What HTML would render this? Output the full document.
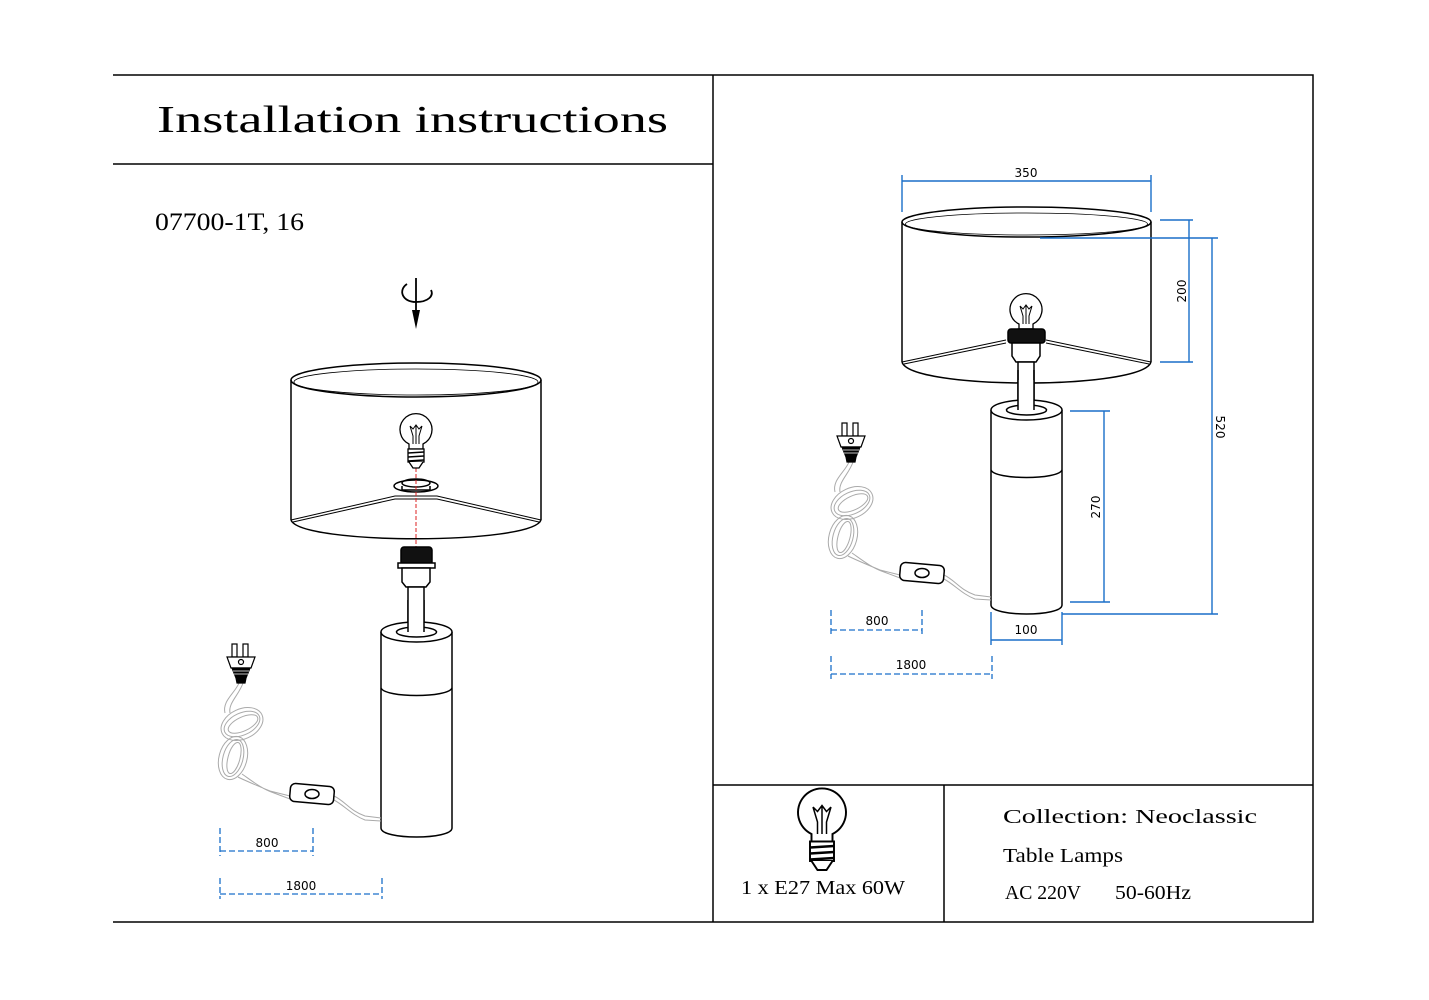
<!DOCTYPE html>
<html><head><meta charset="utf-8"><style>html,body{margin:0;padding:0;background:#fff}svg{display:block}</style></head>
<body>
<svg width="1429" height="1000" viewBox="0 0 1429 1000" xmlns="http://www.w3.org/2000/svg">
<defs>
  <g id="bulb" fill="none" stroke="#000" stroke-width="1.3">
    <path d="M-7,12 A16,16 0 1 1 7,12 L7,17 L-7,17 Z" fill="#fff"/>
    <path d="M-3,12 L-3,4 L-6,-6 M3,12 L3,4 L6,-6 M-6,-6 L-3,-3 L0,-7 L3,-3 L6,-6 M0,-7 L0,12" stroke-width="1"/>
    <rect x="-8" y="17" width="16" height="13" fill="#fff"/>
    <path d="M-8,21 L8,20 M-8,25 L8,24 M-8,29 L8,28" stroke-width="1.6"/>
    <path d="M-7,30 L-3,36 L3,36 L7,30" fill="#fff"/>
  </g>
  <g id="cord">
    <g fill="none" stroke="#aaa" stroke-width="1">
      <path d="M849,462 C845,472 832,480 835,492 M853,462 C849,474 838,482 840,492"/>
      <ellipse cx="852" cy="503" rx="22" ry="15" transform="rotate(-25 852 503)"/>
      <ellipse cx="852" cy="503" rx="19" ry="11" transform="rotate(-25 852 503)"/>
      <ellipse cx="853" cy="503" rx="16" ry="7" transform="rotate(-25 853 503)"/>
      <ellipse cx="843" cy="537" rx="22" ry="14" transform="rotate(-75 843 537)"/>
      <ellipse cx="843" cy="537" rx="19" ry="10" transform="rotate(-75 843 537)"/>
      <ellipse cx="844" cy="537" rx="16" ry="6" transform="rotate(-75 844 537)"/>
      <path d="M848,556 C856,560 868,565 880,570 L900,575 M852,553 C862,560 872,568 884,572 L900,578"/>
      <path d="M944,575 C955,580 960,590 975,595 L991,597 M944,579 C955,585 962,594 975,599 L991,600"/>
    </g>
    <rect x="900" y="564" width="44" height="18" rx="5" fill="#fff" stroke="#000" stroke-width="1.5" transform="rotate(5 922 573)"/>
    <ellipse cx="922" cy="573" rx="7" ry="4.5" fill="none" stroke="#000" stroke-width="1.5"/>
    <g stroke="#000" stroke-width="1.2">
      <rect x="842" y="423" width="5" height="13" fill="#fff"/>
      <rect x="853" y="423" width="5" height="13" fill="#fff"/>
      <path d="M837,436 L865,436 L861,447 L841,447 Z" fill="#fff"/>
      <circle cx="851" cy="441" r="2.5" fill="none"/>
      <path d="M842,447 L860,447 L856,457 L855,462 L847,462 L846,457 Z" fill="#000"/>
      <path d="M843,450 L859,450 M844,453 L858,453" stroke="#fff" stroke-width="0.8"/>
    </g>
  </g>
</defs>

<g stroke="#000" stroke-width="1.5" fill="none">
  <path d="M113,75 L1313,75 L1313,922 L113,922"/>
  <path d="M713,75 L713,922"/>
  <path d="M113,164 L713,164"/>
  <path d="M713,785 L1313,785"/>
  <path d="M944,785 L944,922"/>
</g>

<text x="157" y="132" font-family="Liberation Serif, serif" font-size="38" textLength="511" lengthAdjust="spacingAndGlyphs">Installation instructions</text>
<text x="155" y="230" font-family="Liberation Serif, serif" font-size="25" textLength="149" lengthAdjust="spacingAndGlyphs">07700-1T, 16</text>

<g stroke="#000" stroke-width="1.8" fill="none">
  <path d="M416,278 L416,312"/>
  <path d="M407,284 C398,290 402,302 416,302 C428,302 434,296 431,290"/>
</g>
<path d="M412,310 L420,310 L416,329 Z" fill="#000"/>

<g stroke="#000" stroke-width="1.5" fill="none">
  <line x1="291" y1="380" x2="291" y2="520"/>
  <line x1="541" y1="380" x2="541" y2="520"/>
  <ellipse cx="416" cy="380" rx="125" ry="17"/>
  <ellipse cx="416" cy="382" rx="122" ry="13" stroke-width="0.8"/>
  <path d="M291,520 C300,545 532,545 541,520"/>
  <path d="M291,520 L395,496 L437,496 L541,520 M293,522 L395,499 L437,499 L539,522" stroke-width="1"/>
  <ellipse cx="416" cy="486" rx="22" ry="6"/>
  <ellipse cx="416" cy="483" rx="14" ry="4"/>
  <path d="M402,486 L402,490 L430,490 L430,486"/>
</g>
<line x1="416" y1="420" x2="416" y2="550" stroke="#d22" stroke-width="1" stroke-dasharray="4,2"/>
<use href="#bulb" x="416" y="432"/>
<g stroke="#000" stroke-width="1.5">
  <rect x="401" y="547" width="31" height="18" rx="3" fill="#111"/>
  <rect x="398" y="563" width="37" height="5" fill="#fff"/>
  <path d="M402,568 L430,568 L430,582 L426,587 L406,587 L402,582 Z" fill="#fff"/>
  <rect x="408" y="587" width="16" height="44" fill="#fff"/>
  <path d="M381,632 L381,828 C381,840 452,840 452,828 L452,632" fill="#fff"/>
  <ellipse cx="416.5" cy="632" rx="35.5" ry="10" fill="#fff"/>
  <ellipse cx="416.5" cy="632" rx="20" ry="5" fill="none"/>
  <rect x="408" y="600" width="16" height="32" fill="#fff" stroke="none"/>
  <line x1="408" y1="600" x2="408" y2="632"/><line x1="424" y1="600" x2="424" y2="632"/>
  <path d="M381,688 C385,698 448,698 452,688" fill="none"/>
</g>
<use href="#cord" transform="translate(-610,221)"/>

<g stroke="#1a6fc9" stroke-width="1.3" fill="none" stroke-dasharray="6,3">
  <path d="M220,828 L220,856 M313,828 L313,856 M220,851 L313,851"/>
  <path d="M220,878 L220,899 M382,878 L382,899 M220,894 L382,894"/>
</g>
<g font-family="DejaVu Sans, sans-serif" font-size="12" text-anchor="middle" fill="#000">
  <text x="267" y="847">800</text>
  <text x="301" y="890">1800</text>
</g>

<g stroke="#000" stroke-width="1.5" fill="none">
  <line x1="902" y1="222" x2="902" y2="362"/>
  <line x1="1151" y1="222" x2="1151" y2="362"/>
  <ellipse cx="1026.5" cy="222" rx="124.5" ry="15"/>
  <ellipse cx="1026.5" cy="224" rx="121" ry="11" stroke-width="0.8"/>
  <path d="M902,362 C910,390 1143,390 1151,362"/>
  <path d="M902,362 L1006,340 M1046,340 L1151,362 M904,364 L1006,343 M1046,343 L1149,364" stroke-width="1"/>
</g>
<use href="#bulb" x="1026" y="312"/>
<g stroke="#000" stroke-width="1.5">
  <rect x="1008" y="329" width="37" height="14" rx="3" fill="#111"/>
  <path d="M1012,343 L1040,343 L1040,356 L1036,362 L1016,362 L1012,356 Z" fill="#fff"/>
  <rect x="1018" y="362" width="16" height="48" fill="#fff"/>
  <path d="M991,410 L991,605 C991,617 1062,617 1062,605 L1062,410" fill="#fff"/>
  <ellipse cx="1026.5" cy="410" rx="35.5" ry="10" fill="#fff"/>
  <ellipse cx="1026.5" cy="410" rx="20" ry="5" fill="none"/>
  <rect x="1018" y="380" width="16" height="30" fill="#fff" stroke="none"/>
  <line x1="1018" y1="370" x2="1018" y2="410"/><line x1="1034" y1="370" x2="1034" y2="410"/>
  <path d="M991,470 C995,480 1058,480 1062,470" fill="none"/>
</g>
<use href="#cord"/>

<g stroke="#1a6fc9" stroke-width="1.4" fill="none">
  <path d="M902,175 L902,212 M1151,175 L1151,212 M902,181 L1151,181"/>
  <path d="M1160,220 L1193,220 M1160,362 L1193,362 M1189,220 L1189,362"/>
  <path d="M1040,238 L1218,238 M1062,614 L1218,614 M1212,238 L1212,614"/>
  <path d="M1070,411 L1110,411 M1070,602 L1110,602 M1104,411 L1104,602"/>
  <path d="M991,612 L991,645 M1062,612 L1062,645 M991,640 L1062,640"/>
</g>
<g stroke="#1a6fc9" stroke-width="1.3" fill="none" stroke-dasharray="6,3">
  <path d="M831,610 L831,635 M922,610 L922,635 M831,630 L922,630"/>
  <path d="M831,656 L831,679 M992,656 L992,679 M831,674 L992,674"/>
</g>
<g font-family="DejaVu Sans, sans-serif" font-size="12" text-anchor="middle" fill="#000">
  <text x="1026" y="177">350</text>
  <text transform="translate(1186,291) rotate(-90)">200</text>
  <text transform="translate(1216,427) rotate(90)">520</text>
  <text transform="translate(1100,507) rotate(-90)">270</text>
  <text x="1026" y="634">100</text>
  <text x="877" y="625">800</text>
  <text x="911" y="669">1800</text>
</g>

<use href="#bulb" transform="translate(822,816) scale(1.5)"/>
<g font-family="Liberation Serif, serif" font-size="20" fill="#000">
  <text x="741" y="894" textLength="164" lengthAdjust="spacingAndGlyphs">1 x E27 Max 60W</text>
  <text x="1003" y="823" textLength="254" lengthAdjust="spacingAndGlyphs">Collection: Neoclassic</text>
  <text x="1003" y="862" textLength="120" lengthAdjust="spacingAndGlyphs">Table Lamps</text>
  <text x="1005" y="899" textLength="76" lengthAdjust="spacingAndGlyphs">AC 220V</text>
  <text x="1115" y="899" textLength="76" lengthAdjust="spacingAndGlyphs">50-60Hz</text>
</g>
</svg>
</body></html>
